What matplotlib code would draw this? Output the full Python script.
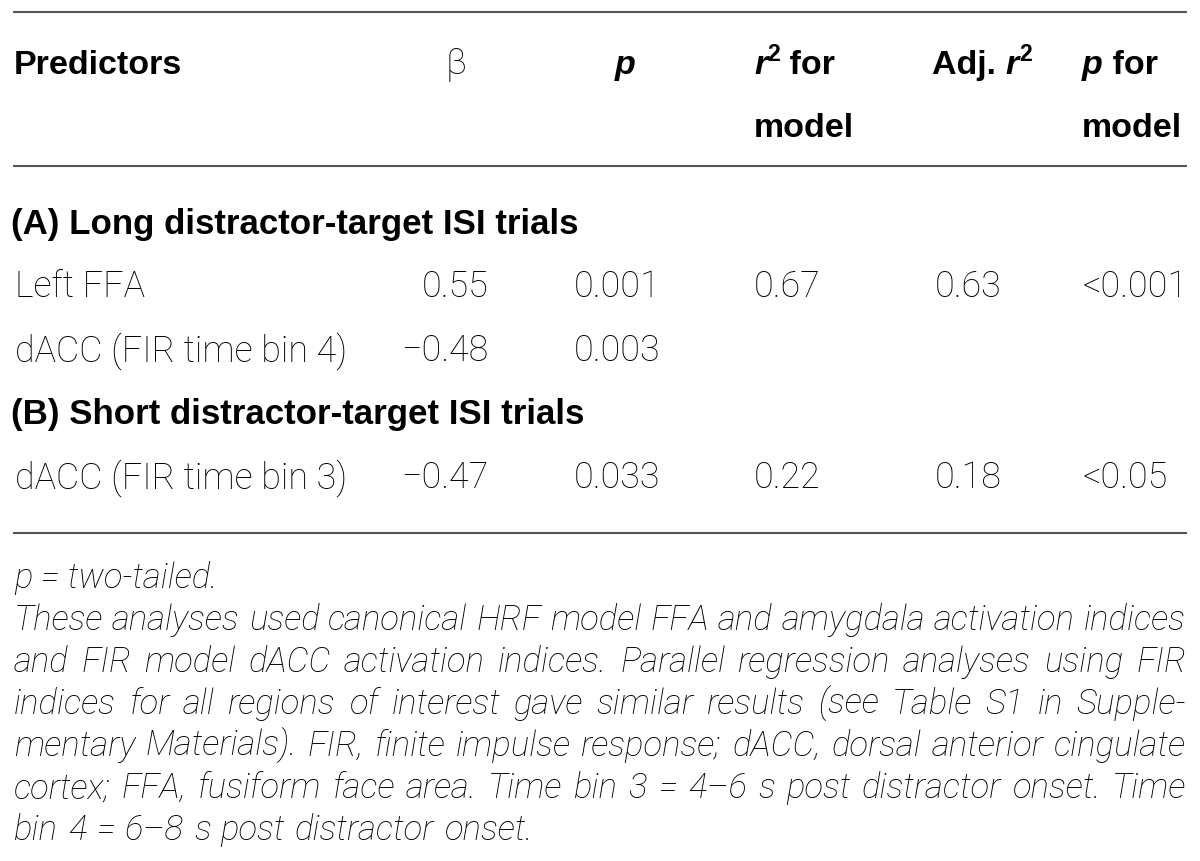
import matplotlib
matplotlib.use("Agg")
import matplotlib.pyplot as plt

plt.rcParams["font.family"] = ["Liberation Sans", "DejaVu Sans"]

# table content
section_titles = ["(A) Long distractor-target ISI trials",
                  "(B) Short distractor-target ISI trials"]
section_rows = [[0, 1], [2]]
predictors = ["Left FFA", "dACC (FIR time bin 4)", "dACC (FIR time bin 3)"]
beta = [0.55, -0.48, -0.47]
p_values = ["0.001", "0.003", "0.033"]
r2_model = ["0.67", "", "0.22"]
adj_r2 = ["0.63", "", "0.18"]
p_model = ["<0.001", "", "<0.05"]

note_p = "p = two-tailed."
note_lines = [
    "These analyses used canonical HRF model FFA and amygdala activation indices",
    "and FIR model dACC activation indices. Parallel regression analyses using FIR",
    "indices for all regions of interest gave similar results (see Table S1 in Supple-",
    "mentary Materials). FIR, finite impulse response; dACC, dorsal anterior cingulate",
    "cortex; FFA, fusiform face area. Time bin 3 = 4\u20136 s post distractor onset. Time",
    "bin 4 = 6\u20138 s post distractor onset.",
]

W, H = 1200, 862
INK = "#000000"
RULE = "#555555"
FS = 24.5
BODY_FS = 25.8
NOTE_FS = 25
LIGHT = ["Roboto", "Liberation Sans", "DejaVu Sans"]

fig = plt.figure(figsize=(12, 8.62), dpi=100)
fig.patch.set_facecolor("white")
ax = fig.add_axes([0, 0, 1, 1])
ax.set_xlim(0, W)
ax.set_ylim(H, 0)
ax.axis("off")
renderer = fig.canvas.get_renderer()

BOLD = dict(fontsize=FS, fontweight="bold")
TITLE = dict(fontsize=FS + 0.6, fontweight="bold")
BOLD_IT = dict(fontsize=FS, fontweight="bold", fontstyle="italic")
SUP = dict(fontsize=FS * 0.68, fontweight="bold", dy=13)
REG = dict(fontsize=BODY_FS, family=LIGHT, fontweight="light")
NOTE = dict(fontsize=NOTE_FS, family=LIGHT, fontweight="light", fontstyle="italic")


def text_w(s, **kw):
    # width including spaces: measure between two bars
    t1 = ax.text(0, 0, "|" + s + "|", **kw)
    t2 = ax.text(0, 0, "||", **kw)
    w = t1.get_window_extent(renderer).width - t2.get_window_extent(renderer).width
    t1.remove()
    t2.remove()
    return w


def draw_runs(x, y, runs):
    for s, kw in runs:
        kw = dict(kw)
        dy = kw.pop("dy", 0)
        ax.text(x, y - dy, s, va="baseline", ha="left", color=INK, **kw)
        x += text_w(s, **kw)


def justify(y, line, x0, x1, last=False, **kw):
    words = line.split(" ")
    ws = [text_w(w, **kw) for w in words]
    if last:
        gap = text_w(" ", **kw) * 1.2
    else:
        gap = (x1 - x0 - sum(ws)) / (len(words) - 1)
    x = x0
    for w, wd in zip(words, ws):
        ax.text(x, y, w, va="baseline", ha="left", color=INK, **kw)
        x += wd + gap


def rule(y):
    ax.plot([13, 1187], [y, y], color=RULE, lw=1.5, solid_capstyle="butt")


rule(13)
rule(167)
rule(534)

# header
hy1, hy2 = 74, 137
draw_runs(14, hy1, [("Predictors", BOLD)])
draw_runs(446, hy1, [("\u03b2", REG)])
draw_runs(615, hy1, [("p", BOLD_IT)])
draw_runs(754, hy1, [("r", BOLD_IT), ("2", SUP), (" for", BOLD)])
draw_runs(754, hy2, [("model", BOLD)])
draw_runs(932, hy1, [("Adj. ", BOLD), ("r", BOLD_IT), ("2", SUP)])
draw_runs(1082, hy1, [("p", BOLD_IT), (" for", BOLD)])
draw_runs(1082, hy2, [("model", BOLD)])

# body
y = 234
step = 63.5
for title, rows in zip(section_titles, section_rows):
    ax.text(11, y, title, va="baseline", ha="left", color=INK, **TITLE)
    y += step
    for i in rows:
        ax.text(15, y, predictors[i], va="baseline", ha="left", color=INK, **REG)
        ax.text(488, y, f"{beta[i]:.2f}".replace("-", "\u2212"),
                va="baseline", ha="right", color=INK, **REG)
        ax.text(574, y, p_values[i], va="baseline", ha="left", color=INK, **REG)
        ax.text(754, y, r2_model[i], va="baseline", ha="left", color=INK, **REG)
        ax.text(935, y, adj_r2[i], va="baseline", ha="left", color=INK, **REG)
        ax.text(1083, y, p_model[i], va="baseline", ha="left", color=INK, **REG)
        y += step

# footnotes
ny = 588
draw_runs(14, ny, [(note_p, NOTE)])
for k, line in enumerate(note_lines):
    ny += 42
    justify(ny, line, 14, 1186, last=(k == len(note_lines) - 1), **NOTE)

fig.savefig("out.png", dpi=100, facecolor="white")
